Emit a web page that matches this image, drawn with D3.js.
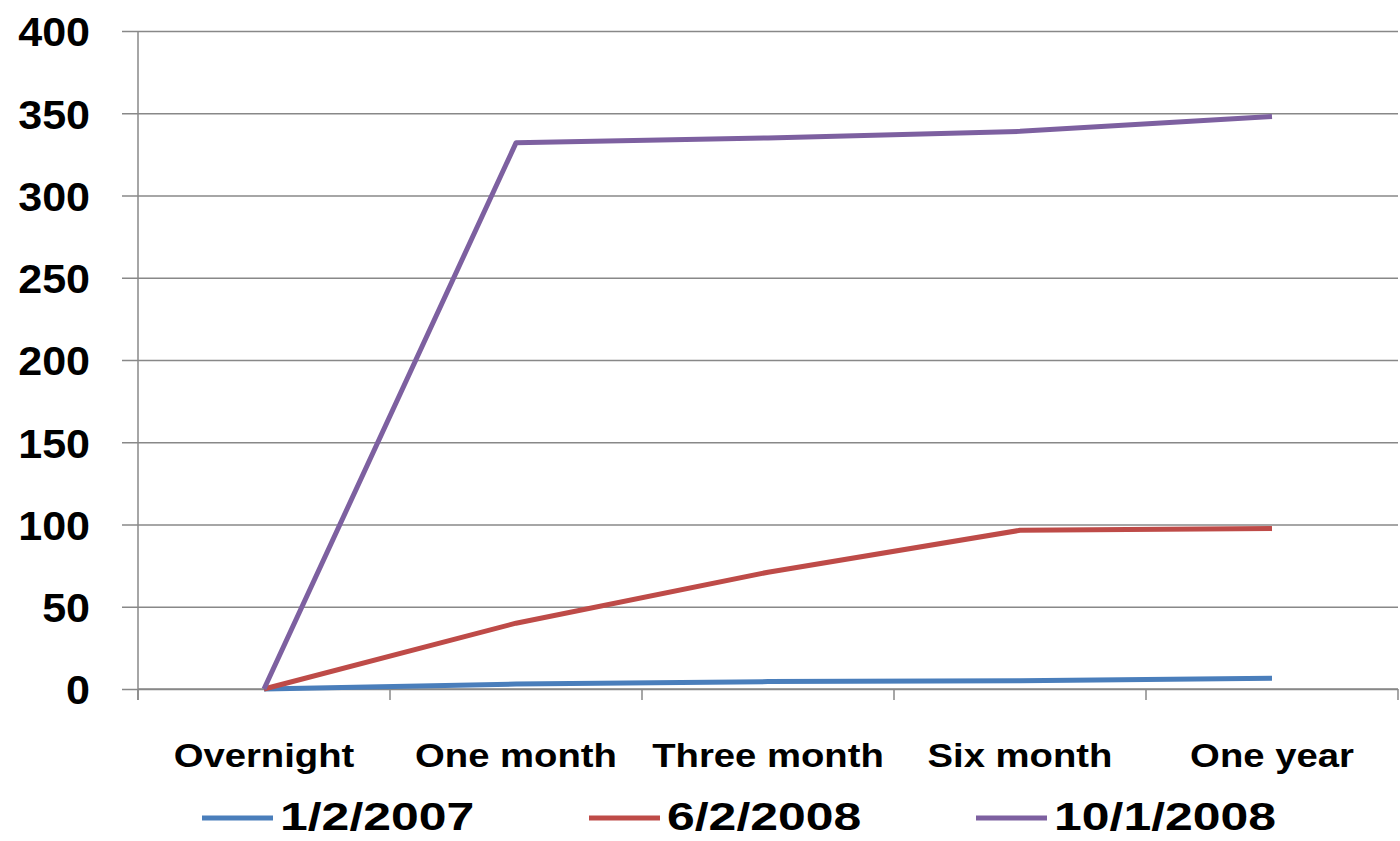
<!DOCTYPE html>
<html>
<head>
<meta charset="utf-8">
<script src="https://cdn.jsdelivr.net/npm/d3@7"></script>
<style>
  html, body { margin: 0; padding: 0; background: #fff; }
  svg { display: block; }
  text { font-family: "Liberation Sans", Arial, sans-serif; fill: #000; }
</style>
</head>
<body>
<svg id="chart" width="1400" height="841"></svg>
<script>
// Maturities along the horizontal axis
const categories = ["Overnight", "One month", "Three month", "Six month", "One year"];

// Spread values per date
const series2007 = [0, 3, 4.5, 5, 6.5];
const series2008Jun = [0, 40, 71, 96.5, 97.5];
const series2008Oct = [0, 332, 335, 339, 348];

const seriesNames = ["1/2/2007", "6/2/2008", "10/1/2008"];
const seriesColors = ["#4a7ebb", "#be4b48", "#7d60a0"];
const yTicks = [0, 50, 100, 150, 200, 250, 300, 350, 400];

const seriesList = [series2007, series2008Jun, series2008Oct].map((values, i) => ({
  name: seriesNames[i], color: seriesColors[i], values
}));

const svg = d3.select("#chart");
const plot = { left: 138, right: 1398, top: 31, bottom: 689 };
const gridColor = "#888";

const x = d3.scaleBand().domain(categories).range([plot.left, plot.right]).padding(0);
const y = d3.scaleLinear().domain([0, 400]).range([plot.bottom, plot.top]);

// Horizontal gridlines, with the value axis drawn through d3.axisLeft
const yAxis = d3.axisLeft(y).tickValues(yTicks).tickSize(16).tickPadding(30).tickFormat(d3.format("d"));
const yg = svg.append("g").attr("transform", `translate(${plot.left},0)`).call(yAxis);
yg.select(".domain").remove();
yg.selectAll(".tick line").attr("x1", -16).attr("x2", plot.right - plot.left)
  .attr("stroke", gridColor).attr("stroke-width", 1.5);
yg.selectAll(".tick text")
  .style("font-size", "41px").style("font-weight", "bold")
  .attr("x", null)
  .attr("text-anchor", "end")
  .attr("transform", "translate(-48,0) scale(1.05,1)")
  .attr("dy", "0.36em");

// Vertical axis line
svg.append("line")
  .attr("x1", plot.left).attr("x2", plot.left)
  .attr("y1", plot.top).attr("y2", plot.bottom + 11)
  .attr("stroke", gridColor).attr("stroke-width", 1.5);

// Category axis: tick marks at band boundaries, labels at band centres
const boundaries = categories.map(c => x(c)).concat([plot.right]);
svg.append("line")
  .attr("x1", plot.left).attr("x2", plot.right)
  .attr("y1", plot.bottom).attr("y2", plot.bottom)
  .attr("stroke", gridColor).attr("stroke-width", 1.5);
svg.append("g").selectAll("line").data(boundaries).join("line")
  .attr("x1", d => d).attr("x2", d => d)
  .attr("y1", plot.bottom).attr("y2", plot.bottom + 11)
  .attr("stroke", gridColor).attr("stroke-width", 1.5);
svg.append("g").selectAll("text").data(categories).join("text")
  .attr("transform", d => `translate(${x(d) + x.bandwidth() / 2},767) scale(1.16,1)`)
  .attr("text-anchor", "middle")
  .style("font-size", "33px").style("font-weight", "bold")
  .text(d => d);

// Series lines
const line = d3.line()
  .x((d, i) => x(categories[i]) + x.bandwidth() / 2)
  .y(d => y(d));
svg.append("g").selectAll("path").data(seriesList).join("path")
  .attr("d", d => line(d.values))
  .attr("fill", "none")
  .attr("stroke", d => d.color)
  .attr("stroke-width", 5)
  .attr("stroke-linejoin", "round");

// Legend
const legendX = [202, 589, 976];
const lg = svg.append("g").selectAll("g").data(seriesList).join("g")
  .attr("transform", (d, i) => `translate(${legendX[i]},818)`);
lg.append("line")
  .attr("x1", 0).attr("x2", 71).attr("y1", 0).attr("y2", 0)
  .attr("stroke", d => d.color).attr("stroke-width", 5);
lg.append("text")
  .attr("transform", "translate(78,12) scale(1.28,1)")
  .style("font-size", "39px").style("font-weight", "bold")
  .text(d => d.name);
</script>
</body>
</html>
